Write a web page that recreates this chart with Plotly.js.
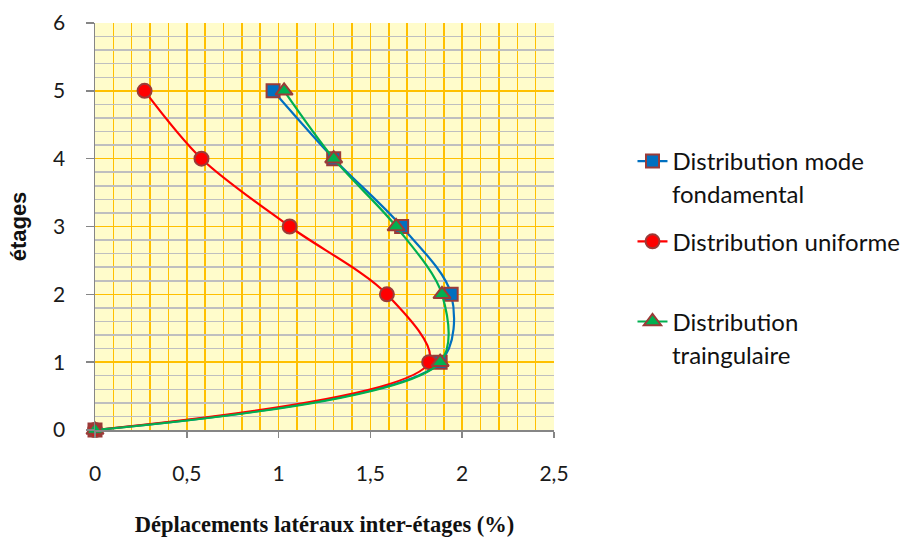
<!DOCTYPE html>
<html>
<head>
<meta charset="utf-8">
<script src="https://cdn.plot.ly/plotly-3.0.1.min.js"></script>
<style>html,body{margin:0;padding:0;background:#fff;}#chart{width:917px;height:539px;}</style>
</head>
<body>
<div id="chart"></div>
<script>
const etages = [0, 1, 2, 3, 4, 5];
const modeFondamental = [0, 1.88, 1.94, 1.67, 1.30, 0.97];
const uniforme = [0, 1.82, 1.59, 1.06, 0.58, 0.27];
const triangulaire = [0, 1.88, 1.89, 1.64, 1.30, 1.03];
const xTickVals = [0, 0.5, 1, 1.5, 2, 2.5];
const xTickText = ['0', '0,5', '1', '1,5', '2', '2,5'];
const yTickVals = [0, 1, 2, 3, 4, 5, 6];
const legendNames = ['Distribution mode', 'Distribution uniforme', 'Distribution'];
const legendSecondLines = ['fondamental', '', 'traingulaire'];

const edge = '#9B3B38';
const legFont = {family: 'Lato, "Open Sans", sans-serif', size: 24, color: '#111'};
function mk(x, name, color, symbol, size, group) {
  return {
    x: x, y: etages, name: name, type: 'scatter', mode: 'lines+markers',
    legendgroup: group,
    line: {color: color, width: 2.2, shape: 'spline', smoothing: 0.9},
    marker: {symbol: symbol, size: size, color: color, line: {color: edge, width: 2}},
    cliponaxis: false
  };
}
const traces = [
  mk(modeFondamental, legendNames[0], '#0070C0', 'square', 13, 'a'),
  mk(uniforme, legendNames[1], '#FF0000', 'circle', 14, 'b'),
  mk(triangulaire, legendNames[2], '#00B050', 'triangle-up', 15, 'c')
];
const tickFont = {family: 'Lato, "Open Sans", sans-serif', size: 21, color: '#1a1a1a'};
const layout = {
  width: 917, height: 539,
  margin: {l: 94.5, r: 360, t: 22.5, b: 109},
  paper_bgcolor: '#ffffff',
  plot_bgcolor: '#FFFCCB',
  showlegend: true,
  legend: {x: 1.171, xanchor: 'left', y: 0.715, yanchor: 'top', xref: 'paper', yref: 'paper',
    font: legFont, tracegroupgap: 46, itemwidth: 30, bgcolor: 'rgba(0,0,0,0)', traceorder: 'grouped'},
  xaxis: {
    range: [0, 2.5], tickvals: xTickVals, ticktext: xTickText,
    showgrid: true, gridcolor: '#FFC000', gridwidth: 1.5,
    minor: {dtick: 0.1, showgrid: true, gridcolor: '#FFC000', gridwidth: 1.5},
    showline: true, linecolor: '#868686', linewidth: 1.5,
    ticks: 'outside', ticklen: 6, tickcolor: '#868686', tickwidth: 1.5,
    ticklabelstandoff: 18, tickfont: tickFont, zeroline: false,
    title: {text: '<b>Déplacements latéraux inter-étages (%)</b>', standoff: 32,
      font: {family: '"Liberation Serif", "Times New Roman", serif', size: 22.5, color: '#111'}}
  },
  yaxis: {
    range: [0, 6], tickvals: yTickVals,
    showgrid: true, gridcolor: '#FFC000', gridwidth: 1.5,
    minor: {dtick: 0.2, showgrid: true, gridcolor: '#BFBFBF', gridwidth: 1.5},
    showline: true, linecolor: '#868686', linewidth: 1.5,
    ticks: 'outside', ticklen: 8, tickcolor: '#868686', tickwidth: 1.5,
    ticklabelstandoff: 16, tickfont: tickFont, zeroline: false,
    title: {text: '<b>étages</b>', standoff: 20,
      font: {family: '"Liberation Sans", Arial, sans-serif', size: 22, color: '#111'}}
  },
  annotations: []
};
Plotly.newPlot('chart', traces, layout, {displayModeBar: false, staticPlot: true}).then(function(gd){
  const items = gd.querySelectorAll('.legend .traces');
  const annots = [];
  const fl = gd._fullLayout;
  const gr = gd.getBoundingClientRect();
  items.forEach(function(it, i){
    if (!legendSecondLines[i]) return;
    const txt = it.querySelector('text.legendtext');
    const r = txt.getBoundingClientRect();
    const xPx = r.left - gr.left - 1;
    const yPx = r.top - gr.top + 32;
    annots.push({text: legendSecondLines[i], xref: 'paper', yref: 'paper', showarrow: false,
      xanchor: 'left', yanchor: 'top', borderpad: 0,
      x: (xPx - fl._size.l) / fl._size.w, y: 1 - (yPx - fl._size.t) / fl._size.h,
      font: legFont});
  });
  return Plotly.relayout(gd, {annotations: annots});
});
</script>
</body>
</html>
